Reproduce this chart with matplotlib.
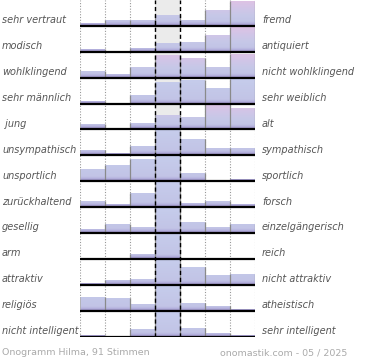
import numpy as np
import matplotlib
matplotlib.use("Agg")
import matplotlib.pyplot as plt
from matplotlib.path import Path
from matplotlib.patches import PathPatch
from matplotlib.colors import LinearSegmentedColormap

# ---- data ----
left_labels = ["sehr vertraut", "modisch", "wohlklingend", "sehr männlich", " jung",
               "unsympathisch", "unsportlich", "zurückhaltend", "gesellig", "arm",
               "attraktiv", "religiös", "nicht intelligent"]
right_labels = ["fremd", "antiquiert", "nicht wohlklingend", "sehr weiblich", "alt",
                "sympathisch", "sportlich", "forsch", "einzelgängerisch", "reich",
                "nicht attraktiv", "atheistisch", "sehr intelligent"]
# bar heights in % of the row height (100 = full row, capped)
row_values = [
    [13, 23, 23, 44, 23, 64, 100],
    [12, 0, 16, 36, 38, 68, 98],
    [26, 13, 42, 89, 79, 41, 95],
    [11, 0, 36, 87, 94, 62, 98],
    [20, 0, 24, 58, 49, 100, 86],
    [23, 11, 38, 100, 65, 30, 30],
    [48, 65, 87, 100, 33, 5, 8],
    [24, 12, 57, 100, 16, 24, 12],
    [15, 34, 24, 100, 45, 24, 34],
    [5, 5, 20, 100, 5, 3, 3],
    [7, 18, 23, 100, 72, 38, 44],
    [54, 50, 26, 100, 30, 19, 7],
    [7, 0, 30, 100, 33, 13, 7],
]
pink_rows = [True, True, True, False, True, False, False, False, False, False, False, False, False]
footer_left = "Onogramm Hilma, 91 Stimmen"
footer_right = "onomastik.com - 05 / 2025"

W, H = 370, 360
fig = plt.figure(figsize=(W / 100, H / 100), dpi=100)
ax_left, ax_right, ax_bottom = 80, 255, 336.5
ax = fig.add_axes([ax_left / W, 1 - ax_bottom / H, (ax_right - ax_left) / W, ax_bottom / H])
n_rows = len(row_values)
n_cols = 7
ax.set_xlim(0, n_cols)
ax.set_ylim(0, n_rows)
ax.axis("off")

# centre column background
ax.axvspan(3, 4, color="#ebebeb", zorder=0, lw=0)
for x in [0, 1, 2, 5, 6, 7]:
    ax.axvline(x, color="#999999", lw=0.8, ls=(0, (1, 1.5)), zorder=1)

cmap_pink = LinearSegmentedColormap.from_list("pk", [
    (0.0, "#9485bd"), (0.1, "#b5b2de"), (0.18, "#c2c4e6"), (0.4, "#c6c8e8"),
    (0.7, "#d2c5e7"), (1.0, "#e0c2e4")])
cmap_blue = LinearSegmentedColormap.from_list("bl", [
    (0.0, "#9485bd"), (0.1, "#b5b2de"), (0.18, "#c2c4e6"), (1.0, "#c6cdec")])

full = 0.965
grad = np.linspace(0, 1, 256).reshape(-1, 1)
for r, vals in enumerate(row_values):
    y0 = n_rows - 1 - r
    hs = [v / 100 * full for v in vals]
    verts = [(0, y0)]
    for i, h in enumerate(hs):
        verts += [(i, y0 + h), (i + 1, y0 + h)]
    verts += [(n_cols, y0), (0, y0)]
    codes = [Path.MOVETO] + [Path.LINETO] * (len(verts) - 2) + [Path.CLOSEPOLY]
    patch = PathPatch(Path(verts, codes), facecolor="none", edgecolor="none", transform=ax.transData)
    ax.add_patch(patch)
    im = ax.imshow(grad, cmap=cmap_pink if pink_rows[r] else cmap_blue, origin="lower",
                   extent=(0, n_cols, y0, y0 + 1), aspect="auto", zorder=2, interpolation="bilinear")
    im.set_clip_path(patch)
    # grey vertical step edges
    for i in range(1, n_cols + 1):
        hl = hs[i - 1]
        hr = hs[i] if i < n_cols else 0
        top = max(hl, hr)
        if top > 0:
            ax.plot([i, i], [y0, y0 + top], color="#8a8a8a", lw=0.9, zorder=3, solid_capstyle="butt")
    if hs[0] > 0:
        ax.plot([0, 0], [y0, y0 + hs[0]], color="#b0b0b0", lw=0.6, zorder=3)
    ax.plot([0, n_cols], [y0, y0], color="black", lw=1.6, zorder=4, solid_capstyle="butt")

for x in [3, 4]:
    ax.axvline(x, color="black", lw=1.0, ls=(0, (3, 2)), zorder=5)

# labels
row_px = ax_bottom / n_rows
for r in range(n_rows):
    yb = (r + 1) * row_px - 5.5
    fy = 1 - yb / H
    fig.text(2 / W, fy, left_labels[r], ha="left", va="center", fontsize=7,
             style="italic", color="#555555")
    fig.text(262 / W, fy, right_labels[r], ha="left", va="center", fontsize=7,
             style="italic", color="#555555")

fig.text(2 / W, 1 - 352.5 / H, footer_left, ha="left", va="center", fontsize=6.8, color="#aaaaaa")
fig.text(347 / W, 1 - 352.5 / H, footer_right, ha="right", va="center", fontsize=6.8, color="#aaaaaa")

fig.savefig("out.png", dpi=100)
